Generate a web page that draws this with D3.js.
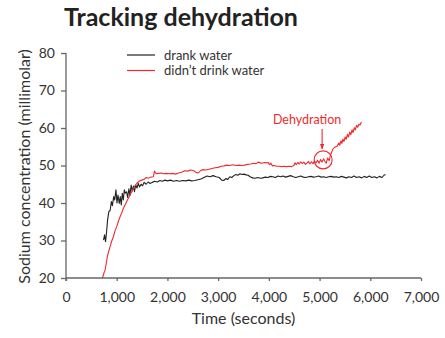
<!DOCTYPE html>
<html>
<head>
<meta charset="utf-8">
<script src="https://cdn.jsdelivr.net/npm/d3@7"></script>
<style>
  html, body { margin: 0; padding: 0; background: #fff; }
  svg { display: block; font-family: Lato, "Open Sans", sans-serif; }
</style>
</head>
<body>
<svg id="chart" width="445" height="338"></svg>
<script>
// Sodium concentration over time, participants who drank water
const drankTime = [740,760,780,800,820,845,870,895,915,940,960,985,1005,1025,1050,1070,1090,1110,1130,1150,1170,1195,1215,1240,1260,1285,1305,1330,1350,1375,1400,1425,1450,1480,1510,1540,1580,1620,1660,1700,1750,1800,1850,1900,1950,2000,2060,2120,2180,2240,2300,2360,2420,2480,2540,2600,2660,2720,2780,2840,2900,2960,3020,3070,3110,3150,3190,3230,3270,3310,3350,3390,3430,3470,3510,3550,3590,3630,3680,3730,3780,3830,3880,3930,3980,4030,4080,4130,4180,4230,4280,4330,4380,4430,4480,4530,4580,4630,4680,4730,4780,4830,4880,4930,4980,5030,5080,5130,5180,5230,5280,5330,5380,5430,5480,5530,5580,5630,5680,5730,5780,5830,5880,5930,5980,6030,6080,6130,6180,6230,6270,6300];
const drankNa = [30.1,31.5,29.7,32.3,35.5,37.7,38.0,40.4,39.3,41.7,40.8,43.5,40.0,42.1,39.9,41.7,39.5,42.6,40.8,43.5,42.6,43.0,41.5,43.8,42.0,44.8,43.2,44.5,43.0,44.8,44.0,45.2,44.3,45.0,44.6,45.5,45.0,45.6,45.2,45.5,45.8,45.6,46.0,45.8,46.1,45.9,46.1,45.8,46.0,45.8,46.0,45.9,46.1,45.9,46.0,46.2,46.4,46.8,47.2,47.0,47.3,47.0,46.8,46.1,46.0,46.5,46.3,47.0,46.8,47.3,47.6,47.4,47.8,47.6,47.7,47.5,47.4,47.0,46.7,46.6,46.8,46.6,46.7,46.9,46.8,47.1,47.0,46.8,47.2,47.0,47.2,46.9,47.1,47.3,47.0,46.8,47.0,47.2,46.9,46.8,47.0,47.1,46.9,47.0,47.2,46.9,47.0,46.8,47.0,47.1,46.9,47.0,46.8,47.1,46.9,46.7,47.0,46.8,47.2,46.8,47.0,46.7,47.1,46.8,47.2,46.8,47.0,46.7,47.1,46.8,47.4,47.6];

// Participants who did not drink water
const dryTime = [720,745,770,795,815,840,868,900,934,965,1000,1030,1065,1100,1131,1165,1197,1230,1262,1295,1328,1360,1394,1440,1493,1540,1580,1624,1670,1722,1745,1765,1790,1830,1880,1930,1980,2040,2100,2160,2220,2280,2340,2400,2460,2520,2570,2610,2650,2700,2760,2820,2880,2940,3000,3060,3120,3170,3230,3290,3350,3410,3470,3520,3580,3640,3700,3750,3790,3830,3870,3910,3950,3990,4010,4040,4070,4100,4150,4200,4250,4300,4350,4400,4450,4490,4517,4540,4570,4600,4630,4660,4690,4720,4750,4780,4810,4840,4870,4900,4930,4960,4990,5020,5050,5080,5100,5130,5160,5190,5215,5240,5265,5290,5320,5350,5380,5400,5420,5440,5460,5480,5505,5525,5550,5570,5595,5615,5640,5660,5685,5705,5730,5750,5775,5800,5825];
const dryNa = [20.0,21.2,22.1,24.0,25.7,27.0,28.3,29.8,31.0,32.5,33.7,35.0,36.3,37.4,38.6,39.5,40.4,41.3,42.1,43.0,43.9,44.6,45.2,45.8,46.1,46.3,46.8,46.6,46.9,47.0,48.5,48.0,47.8,47.9,48.0,47.8,47.9,47.8,47.9,47.7,48.0,48.2,48.6,48.5,48.8,48.6,48.1,48.0,48.6,48.9,48.8,49.0,49.2,49.4,49.5,49.8,49.9,50.1,50.0,50.2,50.0,50.1,50.0,50.1,50.3,50.4,50.6,50.5,50.9,50.7,50.6,50.8,50.7,50.8,50.2,50.6,49.9,50.0,49.8,49.8,49.7,49.8,49.7,49.8,49.7,50.0,50.7,50.2,50.8,50.4,51.0,50.5,50.9,50.3,50.6,51.1,50.4,51.0,50.5,51.2,50.7,51.4,50.6,51.6,50.9,51.8,51.2,50.6,52.0,51.3,52.8,53.6,54.4,54.8,55.0,55.2,56.0,55.4,56.6,55.9,57.0,56.4,57.6,57.0,58.3,57.6,58.9,58.2,59.5,58.8,60.1,59.5,60.7,60.2,61.0,60.8,61.6];

const xTicks = [0,1000,2000,3000,4000,5000,6000,7000];
const yTicks = [20,30,40,50,60,70,80];
const seriesNames = ["drank water", "didn\u2019t drink water"];

// Annotation: where dehydration sets in
const markTime = 5070, markNa = 51.5;
const noteText = "Dehydration";

const black = "#222222", red = "#ee2b2f", axisGrey = "#666666", textCol = "#333333";

const svg = d3.select("#chart");
const x = d3.scaleLinear().domain([0, 7000]).range([66, 421]);
const y = d3.scaleLinear().domain([20, 80]).range([278, 53]);

// Title
svg.append("text")
  .attr("x", 64).attr("y", 26)
  .attr("font-size", 25).attr("font-weight", 700)
  .attr("fill", "#222")
  .text("Tracking dehydration");

// Axes
const xAxis = svg.append("g")
  .attr("transform", `translate(0,${y(20)})`)
  .call(d3.axisBottom(x).tickValues(xTicks).tickSize(3).tickPadding(11)
    .tickFormat(d3.format(",")));
const yAxis = svg.append("g")
  .attr("transform", `translate(${x(0)},0)`)
  .call(d3.axisLeft(y).tickValues(yTicks).tickSize(5).tickPadding(6));

[xAxis, yAxis].forEach(g => {
  g.select(".domain").attr("stroke", axisGrey).attr("stroke-width", 1.3);
  g.selectAll(".tick line").attr("stroke", axisGrey).attr("stroke-width", 1.3);
  g.selectAll(".tick text").attr("fill", textCol).attr("font-size", 14)
    .attr("font-family", "Lato, sans-serif");
});
xAxis.select(".domain").attr("d", `M${x(0)},0H${x(7000)}`);
yAxis.select(".domain").attr("d", `M0,${y(80)}V${y(20) + 3}`);

// Axis titles
svg.append("text")
  .attr("x", x(3500)).attr("y", 324)
  .attr("text-anchor", "middle")
  .attr("font-size", 16).attr("fill", textCol)
  .text("Time (seconds)");
svg.append("text")
  .attr("transform", `translate(30,${(y(20) + y(80)) / 2 + 1}) rotate(-90)`)
  .attr("text-anchor", "middle")
  .attr("font-size", 16).attr("fill", textCol)
  .text("Sodium concentration (millimolar)");

// Lines
const line = d3.line().x(d => x(d[0])).y(d => y(d[1]));
const drank = drankTime.map((t, i) => [t, drankNa[i]]);
const dry = dryTime.map((t, i) => [t, dryNa[i]]);

svg.append("path").datum(drank)
  .attr("d", line).attr("fill", "none")
  .attr("stroke", black).attr("stroke-width", 1.1).attr("stroke-linejoin", "round");
svg.append("path").datum(dry)
  .attr("d", line).attr("fill", "none")
  .attr("stroke", red).attr("stroke-width", 1.1).attr("stroke-linejoin", "round");

// Legend
const legend = svg.append("g");
[black, red].forEach((c, i) => {
  const ly = 55 + i * 15.5;
  legend.append("line")
    .attr("x1", 127).attr("x2", 155).attr("y1", ly).attr("y2", ly)
    .attr("stroke", c).attr("stroke-width", 1.2);
  legend.append("text")
    .attr("x", 164).attr("y", ly + 4.5)
    .attr("font-size", 13).attr("fill", textCol)
    .text(seriesNames[i]);
});

// Annotation
svg.append("defs").append("marker")
  .attr("id", "arrowHead")
  .attr("viewBox", "0 0 10 10").attr("refX", 9).attr("refY", 5)
  .attr("markerWidth", 5).attr("markerHeight", 5)
  .attr("orient", "auto")
  .append("path").attr("d", "M0,1L10,5L0,9Z").attr("fill", red);

svg.append("circle")
  .attr("cx", x(markTime)).attr("cy", y(markNa)).attr("r", 9)
  .attr("fill", "none").attr("stroke", red).attr("stroke-width", 1.1);
svg.append("line")
  .attr("x1", x(markTime) - 1).attr("x2", x(markTime) - 1)
  .attr("y1", y(markNa) - 31).attr("y2", y(markNa) - 11)
  .attr("stroke", red).attr("stroke-width", 1.1)
  .attr("marker-end", "url(#arrowHead)");
svg.append("text")
  .attr("x", x(markTime) - 16).attr("y", y(markNa) - 36)
  .attr("text-anchor", "middle")
  .attr("font-size", 12.5).attr("fill", red)
  .text(noteText);
</script>
</body>
</html>
